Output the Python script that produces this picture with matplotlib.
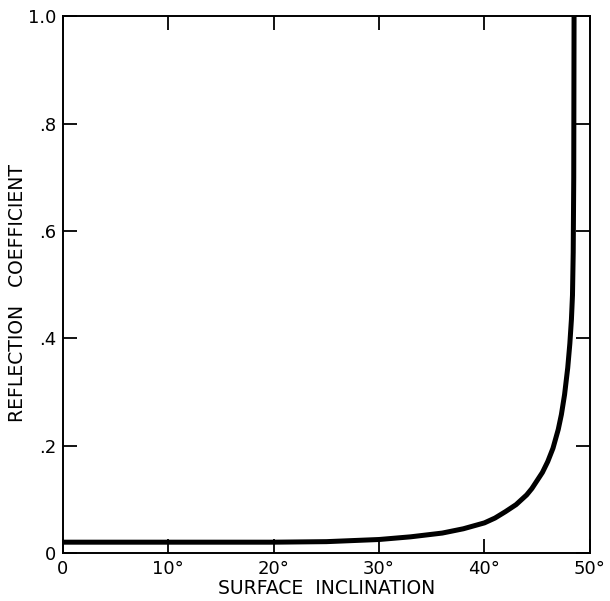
import matplotlib
matplotlib.use("Agg")
import matplotlib.pyplot as plt

inclination = [0, 10, 20, 25, 30, 33, 36, 38, 40, 41, 42, 43, 44, 44.5,
               45, 45.5, 46, 46.5, 47, 47.3, 47.6, 47.9, 48.1, 48.25,
               48.35, 48.42, 48.47, 48.5]
reflection = [0.020, 0.020, 0.020, 0.021, 0.025, 0.030, 0.037, 0.045,
              0.056, 0.065, 0.077, 0.090, 0.108, 0.120, 0.135, 0.150,
              0.170, 0.195, 0.230, 0.258, 0.295, 0.345, 0.390, 0.435,
              0.480, 0.560, 0.700, 1.0]

xticks = [0, 10, 20, 30, 40, 50]
xlabels = ["0", "10°", "20°", "30°", "40°", "50°"]
yticks = [0, 0.2, 0.4, 0.6, 0.8, 1.0]
ylabels = ["0", ".2", ".4", ".6", ".8", "1.0"]

plt.rcParams['font.family'] = ['DejaVu Sans']

fig = plt.figure(figsize=(6.1, 6.01), dpi=100)
ax = fig.add_axes([0.103, 0.080, 0.864, 0.893])

ax.plot(inclination, reflection, color="black", lw=3.6,
        solid_capstyle="butt", solid_joinstyle="round")

ax.set_xlim(0, 50)
ax.set_ylim(0, 1.0)
ax.set_xticks(xticks)
ax.set_xticklabels(xlabels)
ax.set_yticks(yticks)
ax.set_yticklabels(ylabels)
ax.tick_params(direction="in", length=10, width=1.3, top=True, right=True,
               labelsize=13, pad=5)
for s in ax.spines.values():
    s.set_linewidth(1.4)

ax.set_xlabel("SURFACE  INCLINATION", fontsize=13.5, labelpad=1)
ax.set_ylabel("REFLECTION   COEFFICIENT", fontsize=13.5, va="center")
ax.yaxis.set_label_coords(-0.086, 0.485)

fig.savefig("out.png", dpi=100)
